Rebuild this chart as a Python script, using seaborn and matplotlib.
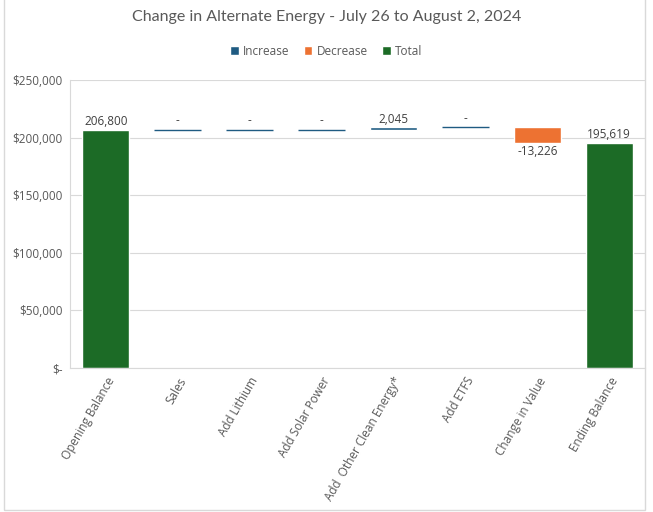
import matplotlib
matplotlib.use("Agg")
import matplotlib.pyplot as plt
import seaborn as sns
import pandas as pd
import numpy as np
from matplotlib.patches import Patch, Rectangle

categories = ["Opening Balance", "Sales", "Add Lithium", "Add Solar Power",
              "Add  Other Clean Energy*", "Add ETFS", "Change in Value", "Ending Balance"]
values = [206800, 0, 0, 0, 2045, 0, -13226, 195619]
kinds = ["Total", "Increase", "Increase", "Increase", "Increase", "Increase", "Decrease", "Total"]
labels = ["206,800", "-", "-", "-", "2,045", "-", "-13,226", "195,619"]
yticks = [0, 50000, 100000, 150000, 200000, 250000]
yticklabels = ["$-", "$50,000", "$100,000", "$150,000", "$200,000", "$250,000"]

colors = {"Increase": "#1F5B82", "Decrease": "#ED7232", "Total": "#1C6B26"}

# waterfall geometry
bottoms, heights = [], []
run = 0
for v, k in zip(values, kinds):
    if k == "Total":
        bottoms.append(0); heights.append(v); run = v
    elif v >= 0:
        bottoms.append(run); heights.append(v); run += v
    else:
        bottoms.append(run + v); heights.append(-v); run += v

df = pd.DataFrame({"cat": categories, "val": heights, "kind": kinds})

sns.set_theme(style="white")
plt.rcParams["font.family"] = ["Open Sans", "DejaVu Sans"]

fig = plt.figure(figsize=(6.53, 5.12), dpi=100)
ax = fig.add_axes([0.107, 0.281, 0.881, 0.563])

sns.barplot(data=df, x="cat", y="val", hue="kind", palette=colors, dodge=False,
            width=0.65, ax=ax, legend=False, order=categories,
            hue_order=["Increase", "Decrease", "Total"], saturation=1)

for p in ax.patches:
    cx = p.get_x() + p.get_width() / 2
    i = int(round(cx))
    if 0 <= i < len(categories):
        p.set_y(bottoms[i])
        p.set_height(heights[i])
        if heights[i] == 0:
            p.set_edgecolor(colors["Increase"])
            p.set_linewidth(1.0)
        elif kinds[i] == "Increase":
            p.set_height(max(heights[i], 1500))

for i, (lab, b, h) in enumerate(zip(labels, bottoms, heights)):
    if kinds[i] == "Decrease":
        ax.text(i, b - 2000, lab, ha="center", va="top", fontsize=8.5, color="#404040")
    else:
        ax.text(i, b + max(h, 1000) + 1200, lab, ha="center", va="bottom", fontsize=8.5, color="#404040")

ax.set_ylim(0, 250000)
ax.set_xlim(-0.5, 7.5)
ax.set_yticks(yticks)
ax.set_yticklabels(yticklabels, fontsize=8.5, color="#595959")
ax.set_xticks(range(len(categories)))
ax.set_xticklabels(categories, rotation=60, ha="right", rotation_mode="anchor",
                   fontsize=8.5, color="#595959")
ax.tick_params(axis="both", length=0, pad=5)
ax.set_xlabel(""); ax.set_ylabel("")
ax.yaxis.grid(True, color="#D9D9D9", linewidth=0.8)
ax.set_axisbelow(True)
for s in ["top", "right"]:
    ax.spines[s].set_visible(False)
for s in ["left", "bottom"]:
    ax.spines[s].set_color("#D9D9D9")
    ax.spines[s].set_linewidth(0.8)

fig.suptitle("Change in Alternate Energy - July 26 to August 2, 2024",
             y=0.98, fontsize=11.5, color="#595959", family=["Lato", "DejaVu Sans"])

handles = [Patch(facecolor=colors[k], label=k) for k in ["Increase", "Decrease", "Total"]]
fig.legend(handles=handles, loc="center", bbox_to_anchor=(0.5, 0.9), ncol=3,
           frameon=False, fontsize=8.5, handlelength=0.7, handleheight=0.7,
           handletextpad=0.4, columnspacing=1.2, labelcolor="#595959")

fig.patches.append(Rectangle((0.006, 0.004), 0.982, 1.0, transform=fig.transFigure,
                             fill=False, edgecolor="#D9D9D9", linewidth=1))

fig.savefig("out.png", dpi=100)
